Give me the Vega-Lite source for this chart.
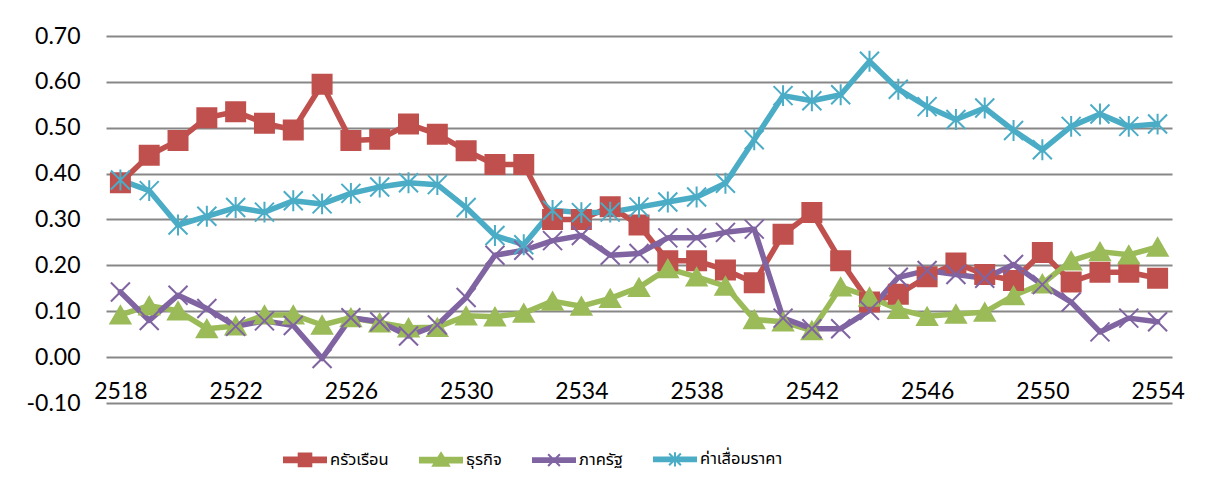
{
  "$schema": "https://vega.github.io/schema/vega-lite/v6.json",
  "width": 1066,
  "height": 367,
  "autosize": {"type": "none"},
  "padding": {"left": 106, "top": 36, "right": 44, "bottom": 92},
  "background": "white",
  "config": {"view": {"stroke": null}, "font": "Lato"},
  "datasets": {
    "d": [
      {"year": 2518, "series": "ครัวเรือน", "value": 0.38},
      {"year": 2519, "series": "ครัวเรือน", "value": 0.44},
      {"year": 2520, "series": "ครัวเรือน", "value": 0.472},
      {"year": 2521, "series": "ครัวเรือน", "value": 0.522},
      {"year": 2522, "series": "ครัวเรือน", "value": 0.535},
      {"year": 2523, "series": "ครัวเรือน", "value": 0.51},
      {"year": 2524, "series": "ครัวเรือน", "value": 0.495},
      {"year": 2525, "series": "ครัวเรือน", "value": 0.595},
      {"year": 2526, "series": "ครัวเรือน", "value": 0.472},
      {"year": 2527, "series": "ครัวเรือน", "value": 0.475},
      {"year": 2528, "series": "ครัวเรือน", "value": 0.508},
      {"year": 2529, "series": "ครัวเรือน", "value": 0.486},
      {"year": 2530, "series": "ครัวเรือน", "value": 0.45},
      {"year": 2531, "series": "ครัวเรือน", "value": 0.42},
      {"year": 2532, "series": "ครัวเรือน", "value": 0.42},
      {"year": 2533, "series": "ครัวเรือน", "value": 0.30},
      {"year": 2534, "series": "ครัวเรือน", "value": 0.30},
      {"year": 2535, "series": "ครัวเรือน", "value": 0.328},
      {"year": 2536, "series": "ครัวเรือน", "value": 0.288},
      {"year": 2537, "series": "ครัวเรือน", "value": 0.21},
      {"year": 2538, "series": "ครัวเรือน", "value": 0.21},
      {"year": 2539, "series": "ครัวเรือน", "value": 0.19},
      {"year": 2540, "series": "ครัวเรือน", "value": 0.162},
      {"year": 2541, "series": "ครัวเรือน", "value": 0.268},
      {"year": 2542, "series": "ครัวเรือน", "value": 0.315},
      {"year": 2543, "series": "ครัวเรือน", "value": 0.21},
      {"year": 2544, "series": "ครัวเรือน", "value": 0.12},
      {"year": 2545, "series": "ครัวเรือน", "value": 0.137},
      {"year": 2546, "series": "ครัวเรือน", "value": 0.175},
      {"year": 2547, "series": "ครัวเรือน", "value": 0.205},
      {"year": 2548, "series": "ครัวเรือน", "value": 0.18},
      {"year": 2549, "series": "ครัวเรือน", "value": 0.167},
      {"year": 2550, "series": "ครัวเรือน", "value": 0.228},
      {"year": 2551, "series": "ครัวเรือน", "value": 0.164},
      {"year": 2552, "series": "ครัวเรือน", "value": 0.185},
      {"year": 2553, "series": "ครัวเรือน", "value": 0.185},
      {"year": 2554, "series": "ครัวเรือน", "value": 0.172},

      {"year": 2518, "series": "ธุรกิจ", "value": 0.092},
      {"year": 2519, "series": "ธุรกิจ", "value": 0.112},
      {"year": 2520, "series": "ธุรกิจ", "value": 0.101},
      {"year": 2521, "series": "ธุรกิจ", "value": 0.062},
      {"year": 2522, "series": "ธุรกิจ", "value": 0.068},
      {"year": 2523, "series": "ธุรกิจ", "value": 0.092},
      {"year": 2524, "series": "ธุรกิจ", "value": 0.092},
      {"year": 2525, "series": "ธุรกิจ", "value": 0.070},
      {"year": 2526, "series": "ธุรกิจ", "value": 0.086},
      {"year": 2527, "series": "ธุรกิจ", "value": 0.075},
      {"year": 2528, "series": "ธุรกิจ", "value": 0.064},
      {"year": 2529, "series": "ธุรกิจ", "value": 0.065},
      {"year": 2530, "series": "ธุรกิจ", "value": 0.090},
      {"year": 2531, "series": "ธุรกิจ", "value": 0.088},
      {"year": 2532, "series": "ธุรกิจ", "value": 0.096},
      {"year": 2533, "series": "ธุรกิจ", "value": 0.122},
      {"year": 2534, "series": "ธุรกิจ", "value": 0.111},
      {"year": 2535, "series": "ธุรกิจ", "value": 0.128},
      {"year": 2536, "series": "ธุรกิจ", "value": 0.152},
      {"year": 2537, "series": "ธุรกิจ", "value": 0.193},
      {"year": 2538, "series": "ธุรกิจ", "value": 0.175},
      {"year": 2539, "series": "ธุรกิจ", "value": 0.155},
      {"year": 2540, "series": "ธุรกิจ", "value": 0.082},
      {"year": 2541, "series": "ธุรกิจ", "value": 0.077},
      {"year": 2542, "series": "ธุรกิจ", "value": 0.058},
      {"year": 2543, "series": "ธุรกิจ", "value": 0.153},
      {"year": 2544, "series": "ธุรกิจ", "value": 0.131},
      {"year": 2545, "series": "ธุรกิจ", "value": 0.104},
      {"year": 2546, "series": "ธุรกิจ", "value": 0.089},
      {"year": 2547, "series": "ธุรกิจ", "value": 0.094},
      {"year": 2548, "series": "ธุรกิจ", "value": 0.098},
      {"year": 2549, "series": "ธุรกิจ", "value": 0.134},
      {"year": 2550, "series": "ธุรกิจ", "value": 0.160},
      {"year": 2551, "series": "ธุรกิจ", "value": 0.210},
      {"year": 2552, "series": "ธุรกิจ", "value": 0.230},
      {"year": 2553, "series": "ธุรกิจ", "value": 0.223},
      {"year": 2554, "series": "ธุรกิจ", "value": 0.240},

      {"year": 2518, "series": "ภาครัฐ", "value": 0.142},
      {"year": 2519, "series": "ภาครัฐ", "value": 0.080},
      {"year": 2520, "series": "ภาครัฐ", "value": 0.135},
      {"year": 2521, "series": "ภาครัฐ", "value": 0.106},
      {"year": 2522, "series": "ภาครัฐ", "value": 0.067},
      {"year": 2523, "series": "ภาครัฐ", "value": 0.079},
      {"year": 2524, "series": "ภาครัฐ", "value": 0.069},
      {"year": 2525, "series": "ภาครัฐ", "value": -0.003},
      {"year": 2526, "series": "ภาครัฐ", "value": 0.086},
      {"year": 2527, "series": "ภาครัฐ", "value": 0.077},
      {"year": 2528, "series": "ภาครัฐ", "value": 0.046},
      {"year": 2529, "series": "ภาครัฐ", "value": 0.070},
      {"year": 2530, "series": "ภาครัฐ", "value": 0.130},
      {"year": 2531, "series": "ภาครัฐ", "value": 0.222},
      {"year": 2532, "series": "ภาครัฐ", "value": 0.233},
      {"year": 2533, "series": "ภาครัฐ", "value": 0.254},
      {"year": 2534, "series": "ภาครัฐ", "value": 0.265},
      {"year": 2535, "series": "ภาครัฐ", "value": 0.222},
      {"year": 2536, "series": "ภาครัฐ", "value": 0.226},
      {"year": 2537, "series": "ภาครัฐ", "value": 0.260},
      {"year": 2538, "series": "ภาครัฐ", "value": 0.260},
      {"year": 2539, "series": "ภาครัฐ", "value": 0.272},
      {"year": 2540, "series": "ภาครัฐ", "value": 0.279},
      {"year": 2541, "series": "ภาครัฐ", "value": 0.085},
      {"year": 2542, "series": "ภาครัฐ", "value": 0.062},
      {"year": 2543, "series": "ภาครัฐ", "value": 0.062},
      {"year": 2544, "series": "ภาครัฐ", "value": 0.102},
      {"year": 2545, "series": "ภาครัฐ", "value": 0.174},
      {"year": 2546, "series": "ภาครัฐ", "value": 0.189},
      {"year": 2547, "series": "ภาครัฐ", "value": 0.180},
      {"year": 2548, "series": "ภาครัฐ", "value": 0.172},
      {"year": 2549, "series": "ภาครัฐ", "value": 0.202},
      {"year": 2550, "series": "ภาครัฐ", "value": 0.158},
      {"year": 2551, "series": "ภาครัฐ", "value": 0.120},
      {"year": 2552, "series": "ภาครัฐ", "value": 0.055},
      {"year": 2553, "series": "ภาครัฐ", "value": 0.085},
      {"year": 2554, "series": "ภาครัฐ", "value": 0.077},

      {"year": 2518, "series": "ค่าเสื่อมราคา", "value": 0.386},
      {"year": 2519, "series": "ค่าเสื่อมราคา", "value": 0.363},
      {"year": 2520, "series": "ค่าเสื่อมราคา", "value": 0.288},
      {"year": 2521, "series": "ค่าเสื่อมราคา", "value": 0.307},
      {"year": 2522, "series": "ค่าเสื่อมราคา", "value": 0.326},
      {"year": 2523, "series": "ค่าเสื่อมราคา", "value": 0.316},
      {"year": 2524, "series": "ค่าเสื่อมราคา", "value": 0.341},
      {"year": 2525, "series": "ค่าเสื่อมราคา", "value": 0.334},
      {"year": 2526, "series": "ค่าเสื่อมราคา", "value": 0.357},
      {"year": 2527, "series": "ค่าเสื่อมราคา", "value": 0.371},
      {"year": 2528, "series": "ค่าเสื่อมราคา", "value": 0.380},
      {"year": 2529, "series": "ค่าเสื่อมราคา", "value": 0.376},
      {"year": 2530, "series": "ค่าเสื่อมราคา", "value": 0.326},
      {"year": 2531, "series": "ค่าเสื่อมราคา", "value": 0.265},
      {"year": 2532, "series": "ค่าเสื่อมราคา", "value": 0.245},
      {"year": 2533, "series": "ค่าเสื่อมราคา", "value": 0.320},
      {"year": 2534, "series": "ค่าเสื่อมราคา", "value": 0.315},
      {"year": 2535, "series": "ค่าเสื่อมราคา", "value": 0.316},
      {"year": 2536, "series": "ค่าเสื่อมราคา", "value": 0.327},
      {"year": 2537, "series": "ค่าเสื่อมราคา", "value": 0.338},
      {"year": 2538, "series": "ค่าเสื่อมราคา", "value": 0.349},
      {"year": 2539, "series": "ค่าเสื่อมราคา", "value": 0.379},
      {"year": 2540, "series": "ค่าเสื่อมราคา", "value": 0.474},
      {"year": 2541, "series": "ค่าเสื่อมราคา", "value": 0.570},
      {"year": 2542, "series": "ค่าเสื่อมราคา", "value": 0.559},
      {"year": 2543, "series": "ค่าเสื่อมราคา", "value": 0.572},
      {"year": 2544, "series": "ค่าเสื่อมราคา", "value": 0.645},
      {"year": 2545, "series": "ค่าเสื่อมราคา", "value": 0.584},
      {"year": 2546, "series": "ค่าเสื่อมราคา", "value": 0.546},
      {"year": 2547, "series": "ค่าเสื่อมราคา", "value": 0.518},
      {"year": 2548, "series": "ค่าเสื่อมราคา", "value": 0.543},
      {"year": 2549, "series": "ค่าเสื่อมราคา", "value": 0.494},
      {"year": 2550, "series": "ค่าเสื่อมราคา", "value": 0.452},
      {"year": 2551, "series": "ค่าเสื่อมราคา", "value": 0.503},
      {"year": 2552, "series": "ค่าเสื่อมราคา", "value": 0.530},
      {"year": 2553, "series": "ค่าเสื่อมราคา", "value": 0.503},
      {"year": 2554, "series": "ค่าเสื่อมราคา", "value": 0.508}
    ]
  },
  "data": {"name": "d"},
  "encoding": {
    "x": {
      "field": "year", "type": "quantitative",
      "scale": {"domain": [2517.5, 2554.5], "nice": false, "zero": false},
      "axis": {
        "title": null, "grid": false, "domain": false, "ticks": false, "tickSize": 0,
        "values": [2518, 2522, 2526, 2530, 2534, 2538, 2542, 2546, 2550, 2554],
        "format": "d", "labelFont": "Lato", "labelFontSize": 23, "labelColor": "#000000",
        "labelBaseline": "middle", "labelPadding": -12, "labelFlush": false, "labelOverlap": false
      }
    },
    "y": {
      "field": "value", "type": "quantitative",
      "scale": {"domain": [-0.1, 0.7], "nice": false, "zero": false},
      "axis": {
        "title": null, "domain": false, "ticks": false, "tickSize": 0,
        "values": [-0.1, 0, 0.1, 0.2, 0.3, 0.4, 0.5, 0.6, 0.7],
        "format": ".2f", "labelExpr": "replace(datum.label, '−', '-')",
        "labelFont": "Lato", "labelFontSize": 23, "labelColor": "#000000",
        "labelPadding": 26, "labelFlush": false, "labelOverlap": false,
        "gridColor": "#878787", "gridWidth": 2, "gridOpacity": 1
      }
    },
    "color": {
      "field": "series", "type": "nominal",
      "scale": {
        "domain": ["ครัวเรือน", "ธุรกิจ", "ภาครัฐ", "ค่าเสื่อมราคา"],
        "range": ["#C0504D", "#9BBB59", "#8064A2", "#4BACC6"]
      },
      "legend": {
        "title": null, "orient": "none", "direction": "horizontal",
        "legendX": 177, "legendY": 401, "padding": 0,
        "symbolSize": 1764, "symbolStrokeWidth": 2,
        "symbolType": "M-1,-0.11H1V0.11H-1Z M-0.3,-0.3H0.3V0.3H-0.3Z",
        "labelFont": "Noto Sans Thai, Tahoma, Noto Sans, sans-serif", "labelFontSize": 16.5,
        "labelColor": "#000000", "labelOffset": 3, "columnPadding": 27,
        "encode": {
          "symbols": {
            "update": {
              "shape": {"signal": "datum.value === 'ครัวเรือน' ? 'M-1,-0.11H1V0.11H-1Z M-0.3,-0.3H0.3V0.3H-0.3Z' : datum.value === 'ธุรกิจ' ? 'M-1,-0.11H1V0.11H-1Z M0,-0.34L0.38,0.27H-0.38Z' : datum.value === 'ภาครัฐ' ? 'M-1,-0.09H1V0.09H-1Z M-0.28,-0.28L0.28,0.28M-0.28,0.28L0.28,-0.28' : 'M-1,-0.09H1V0.09H-1Z M-0.28,-0.28L0.28,0.28M-0.28,0.28L0.28,-0.28M0,-0.34V0.34'"},
              "fill": {"scale": "color", "field": "value"},
              "stroke": {"scale": "color", "field": "value"},
              "strokeWidth": {"value": 2},
              "opacity": {"value": 1}
            }
          }
        }
      }
    }
  },
  "layer": [
    {
      "mark": {"type": "line", "strokeWidth": 5.5, "strokeJoin": "round", "strokeCap": "round"}
    },
    {
      "transform": [{"filter": "datum.series === 'ครัวเรือน'"}],
      "mark": {"type": "point", "filled": true, "shape": "square", "stroke": "#C0504D", "strokeWidth": 2, "opacity": 1, "size": 361}
    },
    {
      "transform": [{"filter": "datum.series === 'ธุรกิจ'"}],
      "mark": {"type": "point", "filled": true, "shape": "triangle-up", "stroke": "#9BBB59", "strokeWidth": 2, "opacity": 1, "size": 400}
    },
    {
      "transform": [{"filter": "datum.series === 'ภาครัฐ'"}],
      "mark": {"type": "point", "filled": true, "shape": "M-1,-1L1,1M-1,1L1,-1", "stroke": "#8064A2", "strokeWidth": 2, "opacity": 1, "size": 361}
    },
    {
      "transform": [{"filter": "datum.series === 'ค่าเสื่อมราคา'"}],
      "mark": {"type": "point", "filled": true, "shape": "M-1,-1L1,1M-1,1L1,-1M0,-1.1L0,1.1", "stroke": "#4BACC6", "strokeWidth": 2, "opacity": 1, "size": 361}
    }
  ]
}
